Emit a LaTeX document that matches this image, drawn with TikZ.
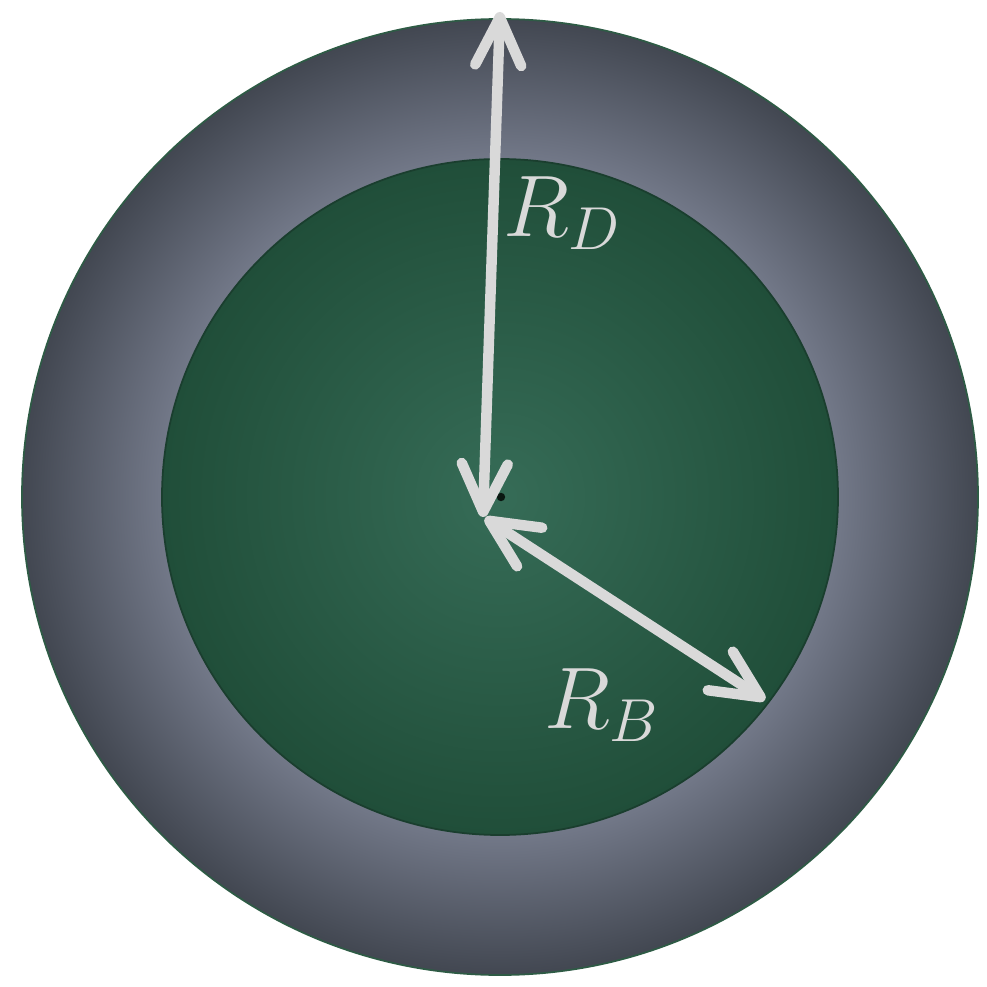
\documentclass[tikz,border=0pt]{standalone}
\usepackage{amsmath}
\usepackage{xcolor}
\usepackage{tikz}
\usetikzlibrary{arrows.meta,positioning,calc}
\definecolor{ringlight}{HTML}{727888}
\definecolor{ringdark}{HTML}{424751}
\definecolor{corelight}{HTML}{366C57}
\definecolor{coredark}{HTML}{204E39}
\definecolor{rimgreen}{HTML}{2E5B45}
\definecolor{arrowgray}{HTML}{D9D9D9}
\pgfdeclareradialshading{ringshade}{\pgfpoint{0bp}{0bp}}%
  {color(0bp)=(ringlight); color(17.7bp)=(ringlight); color(25bp)=(ringdark); color(50bp)=(ringdark)}
\pgfdeclareradialshading{coreshade}{\pgfpoint{0bp}{0bp}}%
  {color(0bp)=(corelight); color(25bp)=(coredark); color(50bp)=(coredark)}

\begin{document}
\begin{tikzpicture}[
  radius arrow/.style={draw=arrowgray,line width=1.05mm,line cap=round,
    {Straight Barb[round,length=4.8mm,width=4.6mm]}-{Straight Barb[round,length=4.8mm,width=4.6mm]}},
  radius label/.style={text=arrowgray,font=\fontsize{27}{31}\selectfont}]
  \useasboundingbox (-5,-4.9) rectangle (4.87,4.97);
  % Dark halo and the bright core.
  \shade[shading=ringshade,draw=rimgreen,line width=.5pt] (0,0) circle (4.78);
  \shade[shading=coreshade,draw=coredark!80!black,line width=.5pt] (0,0) circle (3.38);
  \fill[black!70!coredark] (0.01,0) circle (1.2pt);
  \coordinate (centre) at (-0.17,-0.2);
  \coordinate (top) at (0,4.85);
  \coordinate (rim) at (2.65,-2.03);
  \draw[radius arrow] (centre) -- (top);
  \draw[radius arrow] ($(centre)+(0.02,-0.01)$) -- (rim);
  \node[radius label] (rd) at (0.62,2.84) {$R_D$};
  \node[radius label] (rb) at (1.02,-2.08) {$R_B$};
\end{tikzpicture}
\end{document}
